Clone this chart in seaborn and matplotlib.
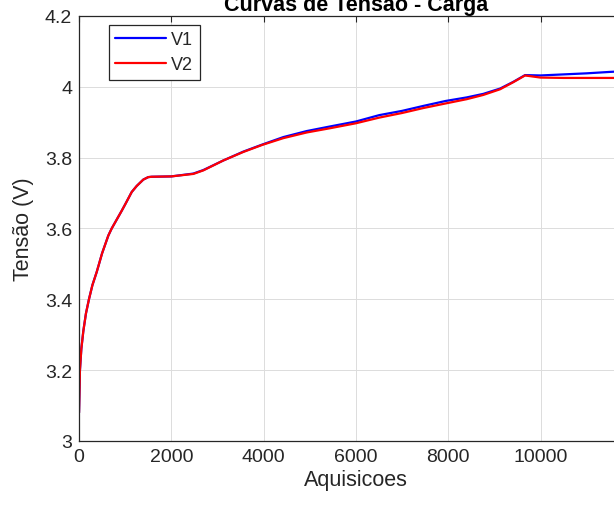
import matplotlib
matplotlib.use("Agg")
import matplotlib.pyplot as plt
import seaborn as sns
import pandas as pd

# ---- data ----
aquisicoes = [0, 20, 50, 93, 150, 215, 290, 383, 500, 635, 708, 925, 1000, 1142, 1250,
              1393, 1500, 1575, 2000, 2477, 2694, 3127, 3560, 3972, 4427, 4933, 5439,
              6000, 6505, 7000, 7460, 7945, 8400, 8760, 9123, 9410, 9664, 10000, 10500,
              11000, 11500, 11950]
v1 = [3.08, 3.20, 3.26, 3.31, 3.36, 3.40, 3.44, 3.477, 3.53, 3.58, 3.60, 3.65, 3.668,
      3.703, 3.72, 3.738, 3.745, 3.746, 3.747, 3.755, 3.765, 3.792, 3.817, 3.837, 3.858,
      3.875, 3.888, 3.902, 3.920, 3.932, 3.946, 3.960, 3.970, 3.980, 3.995, 4.014, 4.033,
      4.032, 4.035, 4.038, 4.042, 4.045]
v2 = [3.08, 3.20, 3.26, 3.31, 3.36, 3.40, 3.44, 3.477, 3.53, 3.58, 3.60, 3.65, 3.668,
      3.703, 3.72, 3.738, 3.745, 3.746, 3.747, 3.754, 3.764, 3.792, 3.816, 3.836, 3.855,
      3.871, 3.883, 3.897, 3.913, 3.926, 3.940, 3.953, 3.965, 3.977, 3.993, 4.013, 4.032,
      4.026, 4.025, 4.025, 4.025, 4.025]
series_names = ["V1", "V2"]
series_colors = ["#0000ff", "#ff0000"]
x_ticks = [0, 2000, 4000, 6000, 8000, 10000]
y_ticks = [3.0, 3.2, 3.4, 3.6, 3.8, 4.0, 4.2]
y_tick_labels = ["3", "3.2", "3.4", "3.6", "3.8", "4", "4.2"]

sns.set_style("white")
plt.rcParams["font.family"] = ["Liberation Sans", "DejaVu Sans"]

df = pd.concat([
    pd.DataFrame({"Aquisicoes": aquisicoes, "Tensao": v1, "serie": series_names[0]}),
    pd.DataFrame({"Aquisicoes": aquisicoes, "Tensao": v2, "serie": series_names[1]}),
])

fig = plt.figure(figsize=(6.14, 5.06), dpi=100)
ax = fig.add_axes([0.1287, 0.1265, 0.902, 0.840])

sns.lineplot(data=df, x="Aquisicoes", y="Tensao", hue="serie",
             palette=dict(zip(series_names, series_colors)), linewidth=1.6,
             ax=ax, sort=False, estimator=None)

tick_c = "#262626"
ax.set_xlim(0, 12000)
ax.set_ylim(3.0, 4.2)
ax.set_xticks(x_ticks)
ax.set_xticklabels([str(t) for t in x_ticks])
ax.set_yticks(y_ticks)
ax.set_yticklabels(y_tick_labels)
ax.tick_params(axis="both", direction="in", length=4, width=0.8, colors=tick_c,
               labelsize=14, top=True, right=True, pad=5)
ax.grid(True, color="#dcdcdc", linewidth=0.7)
for s in ax.spines.values():
    s.set_color(tick_c)
    s.set_linewidth(0.9)

ax.set_xlabel("Aquisicoes", fontsize=15.5, color=tick_c, labelpad=3)
ax.set_ylabel("Tensão (V)", fontsize=15.5, color=tick_c, labelpad=8)
ax.set_title("Curvas de Tensão - Carga", fontsize=15.5, fontweight="bold",
             color="black", pad=4)

leg = ax.legend(loc="upper left", bbox_to_anchor=(0.054, 0.979), fontsize=13,
                frameon=True, fancybox=False, framealpha=1, edgecolor=tick_c,
                handlelength=2.8, handletextpad=0.3, labelspacing=0.45,
                borderpad=0.35, borderaxespad=0.0, title=None)
leg.get_frame().set_linewidth(0.9)
for t in leg.get_texts():
    t.set_color(tick_c)

fig.savefig("out.png", dpi=100)
